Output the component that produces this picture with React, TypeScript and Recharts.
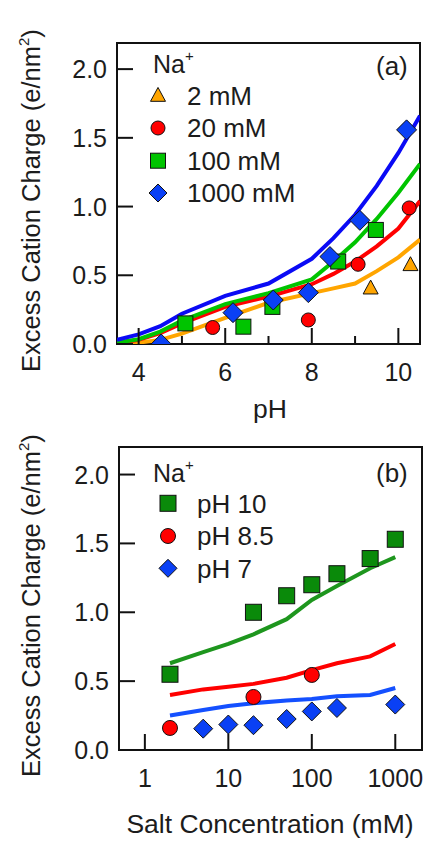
import { ComposedChart, Line, Scatter, XAxis, YAxis, ReferenceArea } from 'recharts'

const FONT = '"Liberation Sans", Arial, Helvetica, sans-serif'
const INK = '#1c1c1c'

const ORANGE = '#FFA500'
const RED = '#FF0000'
const GREEN_A = '#00C400'
const BLUE_A = '#0A0AF5'
const GREEN_B = '#1E961E'
const GREEN_B_PT = '#0A8A0A'
const BLUE_B = '#1450FF'
const BLUE_PT = '#0A40F5'

// ---- panel (a): charge vs pH ----
const ph2mM = [9.36, 10.28]
const q2mM = [0.405, 0.575]
const ph20mM = [5.71, 7.92, 9.07, 10.25]
const q20mM = [0.12, 0.175, 0.58, 0.99]
const ph100mM = [5.08, 6.42, 7.09, 8.61, 9.48]
const q100mM = [0.15, 0.126, 0.27, 0.6, 0.83]
const ph1000mM = [4.52, 6.18, 7.11, 7.92, 8.42, 9.11, 10.19]
const q1000mM = [0.0, 0.228, 0.32, 0.374, 0.636, 0.9, 1.558]

// model curves on a common pH grid
const phGrid = [3.5, 4, 4.5, 5, 6, 7, 8, 8.5, 9, 9.5, 10, 10.5]
const fit2mM = [0, 0.01, 0.03, 0.075, 0.19, 0.3, 0.37, 0.405, 0.44, 0.53, 0.63, 0.76]
const fit20mM = [0.005, 0.03, 0.08, 0.15, 0.27, 0.345, 0.435, 0.51, 0.6, 0.71, 0.84, 1.04]
const fit100mM = [0.01, 0.035, 0.09, 0.17, 0.29, 0.37, 0.47, 0.6, 0.74, 0.91, 1.1, 1.31]
const fit1000mM = [0.03, 0.07, 0.13, 0.22, 0.35, 0.44, 0.62, 0.77, 0.94, 1.15, 1.39, 1.66]

const phTicks = [4, 5, 6, 7, 8, 9, 10]
const phLabelled = [4, 6, 8, 10]

// ---- panel (b): charge vs salt concentration ----
const cPH10 = [2, 20, 50, 100, 200, 500, 1000]
const qPH10 = [0.55, 1.0, 1.12, 1.2, 1.28, 1.39, 1.53]
const cPH85 = [2, 20, 100]
const qPH85 = [0.16, 0.385, 0.545]
const cPH7 = [5, 10, 20, 50, 100, 200, 1000]
const qPH7 = [0.155, 0.185, 0.18, 0.225, 0.28, 0.305, 0.33]

const saltGrid = [2, 5, 10, 20, 50, 100, 200, 500, 1000]
const fitPH10 = [0.63, 0.71, 0.77, 0.84, 0.95, 1.09, 1.19, 1.32, 1.4]
const fitPH85 = [0.4, 0.44, 0.46, 0.48, 0.525, 0.58, 0.63, 0.68, 0.77]
const fitPH7 = [0.25, 0.29, 0.32, 0.34, 0.36, 0.37, 0.39, 0.4, 0.45]

const saltTicks = [1, 10, 100, 1000]
const chargeTicks = [0, 0.5, 1, 1.5, 2]

const pts = (xs: number[], ys: number[]) => xs.map((x, i) => ({ x, y: ys[i] }))

type Kind = 'triangle' | 'circle' | 'square' | 'diamond'

function Marker({ cx, cy, kind, size, fill }: { cx: number; cy: number; kind: Kind; size: number; fill: string }) {
  const h = size / 2
  const common = { fill, stroke: '#111', strokeWidth: 1 }
  if (kind === 'circle') return <circle cx={cx} cy={cy} r={h} {...common} />
  if (kind === 'square') return <rect x={cx - h} y={cy - h} width={size} height={size} {...common} />
  if (kind === 'diamond')
    return <polygon points={`${cx},${cy - h} ${cx + h},${cy} ${cx},${cy + h} ${cx - h},${cy}`} {...common} />
  return <polygon points={`${cx},${cy - h * 1.1} ${cx + h},${cy + h * 0.75} ${cx - h},${cy + h * 0.75}`} {...common} />
}

const shapeOf = (kind: Kind, size: number, fill: string) => (p: any) =>
  <Marker cx={p.cx} cy={p.cy} kind={kind} size={size} fill={fill} />

// inward ticks; labels only on the major ones
function XTick(props: any) {
  const { x, y, payload, labelled } = props
  const major = labelled.includes(payload.value)
  return (
    <g>
      <line x1={x} x2={x} y1={y} y2={y - (major ? 16 : 8)} stroke="#111" strokeWidth={2} />
      {major && (
        <text x={x} y={y + 37} textAnchor="middle" fontSize={25} fontFamily={FONT} fill={INK}>
          {payload.value}
        </text>
      )}
    </g>
  )
}

function YTick(props: any) {
  const { x, y, payload } = props
  return (
    <g>
      <line x1={x} x2={x + 16} y1={y} y2={y} stroke="#111" strokeWidth={2} />
      <text x={x - 10} y={y} dy="0.36em" textAnchor="end" fontSize={25} fontFamily={FONT} fill={INK}>
        {payload.value.toFixed(1)}
      </text>
    </g>
  )
}

type Entry = { kind: Kind; size: number; fill: string; label: string }

function Overlay({ tag, entries, symX, textX, rowY, naBase, tagBase, yTitleStart, xTitle, xTitleBase }: {
  tag: string; entries: Entry[]; symX: number; textX: number; rowY: number[]; naBase: number
  tagBase: number; yTitleStart: number; xTitle: string; xTitleBase: number
}) {
  return (
    <svg width={429} height={430} overflow="visible"
      style={{ position: 'absolute', left: 0, top: 0, pointerEvents: 'none', overflow: 'visible' }}>
      <g fontFamily={FONT} fill={INK}>
        <text x={153} y={naBase} fontSize={25}>
          Na<tspan fontSize={15} dy={-12}>+</tspan>
        </text>
        {entries.map((e, i) => (
          <g key={e.label}>
            <Marker cx={symX} cy={rowY[i]} kind={e.kind} size={e.size} fill={e.fill} />
            <text x={textX} y={rowY[i]} dy="0.36em" fontSize={26}>{e.label}</text>
          </g>
        ))}
        <text x={376} y={tagBase} fontSize={26}>{tag}</text>
        <text transform={`translate(40 ${yTitleStart}) rotate(-90)`} fontSize={25.5}>
          Excess Cation Charge (e/nm<tspan fontSize={15} dy={-11}>2</tspan><tspan dy={11}>)</tspan>
        </text>
        <text x={270} y={xTitleBase} textAnchor="middle" fontSize={26.5}>{xTitle}</text>
      </g>
    </svg>
  )
}

function PanelA() {
  return (
    <div style={{ position: 'relative', width: 429, height: 420 }}>
      <ComposedChart width={429} height={420} margin={{ top: 43, right: 9, bottom: 0, left: 0 }}>
        <XAxis type="number" dataKey="x" domain={[3.5, 10.5]} ticks={phTicks} allowDataOverflow
          axisLine={false} tickLine={false} tickSize={0} tickMargin={0} height={76}
          tick={(p: any) => <XTick {...p} labelled={phLabelled} />} />
        <YAxis type="number" dataKey="y" domain={[0, 2.19]} ticks={chargeTicks} allowDataOverflow
          axisLine={false} tickLine={false} tickSize={0} tickMargin={0} width={117}
          tick={(p: any) => <YTick {...p} />} />
        <Line data={pts(phGrid, fit2mM)} dataKey="y" stroke={ORANGE} strokeWidth={4} dot={false} isAnimationActive={false} />
        <Line data={pts(phGrid, fit20mM)} dataKey="y" stroke={RED} strokeWidth={4} dot={false} isAnimationActive={false} />
        <Line data={pts(phGrid, fit100mM)} dataKey="y" stroke={GREEN_A} strokeWidth={4} dot={false} isAnimationActive={false} />
        <Line data={pts(phGrid, fit1000mM)} dataKey="y" stroke={BLUE_A} strokeWidth={4} dot={false} isAnimationActive={false} />
        <Scatter data={pts(ph2mM, q2mM)} dataKey="y" shape={shapeOf('triangle', 15, ORANGE)} isAnimationActive={false} />
        <Scatter data={pts(ph20mM, q20mM)} dataKey="y" shape={shapeOf('circle', 14, RED)} isAnimationActive={false} />
        <Scatter data={pts(ph100mM, q100mM)} dataKey="y" shape={shapeOf('square', 15, GREEN_A)} isAnimationActive={false} />
        <Scatter data={pts(ph1000mM, q1000mM)} dataKey="y" shape={shapeOf('diamond', 20, BLUE_PT)} isAnimationActive={false} />
        <ReferenceArea x1={3.5} x2={10.5} y1={0} y2={2.19} fill="none" stroke="#111" strokeWidth={2} />
      </ComposedChart>
      <Overlay tag="(a)" symX={158} textX={187} rowY={[95.7, 128, 160.7, 193]} naBase={73}
        tagBase={75} yTitleStart={372} xTitle="pH" xTitleBase={418}
        entries={[
          { kind: 'triangle', size: 15, fill: ORANGE, label: '2 mM' },
          { kind: 'circle', size: 14, fill: RED, label: '20 mM' },
          { kind: 'square', size: 15, fill: GREEN_A, label: '100 mM' },
          { kind: 'diamond', size: 18, fill: BLUE_PT, label: '1000 mM' },
        ]} />
    </div>
  )
}

function PanelB() {
  return (
    <div style={{ position: 'relative', width: 429, height: 421 }}>
      <ComposedChart width={429} height={421} margin={{ top: 27, right: 7, bottom: 0, left: 0 }}>
        <XAxis type="number" dataKey="x" scale="log" domain={[0.49, 2090]} ticks={saltTicks} allowDataOverflow
          axisLine={false} tickLine={false} tickSize={0} tickMargin={0} height={91}
          tick={(p: any) => <XTick {...p} labelled={saltTicks} />} />
        <YAxis type="number" dataKey="y" domain={[0, 2.2]} ticks={chargeTicks} allowDataOverflow
          axisLine={false} tickLine={false} tickSize={0} tickMargin={0} width={119}
          tick={(p: any) => <YTick {...p} />} />
        <Line data={pts(saltGrid, fitPH10)} dataKey="y" stroke={GREEN_B} strokeWidth={4} dot={false} isAnimationActive={false} />
        <Line data={pts(saltGrid, fitPH85)} dataKey="y" stroke={RED} strokeWidth={4} dot={false} isAnimationActive={false} />
        <Line data={pts(saltGrid, fitPH7)} dataKey="y" stroke={BLUE_B} strokeWidth={4} dot={false} isAnimationActive={false} />
        <Scatter data={pts(cPH10, qPH10)} dataKey="y" shape={shapeOf('square', 16, GREEN_B_PT)} isAnimationActive={false} />
        <Scatter data={pts(cPH85, qPH85)} dataKey="y" shape={shapeOf('circle', 15, RED)} isAnimationActive={false} />
        <Scatter data={pts(cPH7, qPH7)} dataKey="y" shape={shapeOf('diamond', 19, BLUE_PT)} isAnimationActive={false} />
        <ReferenceArea x1={0.49} x2={2090} y1={0} y2={2.2} fill="none" stroke="#111" strokeWidth={2} />
      </ComposedChart>
      <Overlay tag="(b)" symX={168} textX={197} rowY={[83.3, 116, 148.3]} naBase={62}
        tagBase={62} yTitleStart={357} xTitle="Salt Concentration (mM)" xTitleBase={413}
        entries={[
          { kind: 'square', size: 16, fill: GREEN_B_PT, label: 'pH 10' },
          { kind: 'circle', size: 15, fill: RED, label: 'pH 8.5' },
          { kind: 'diamond', size: 18, fill: BLUE_PT, label: 'pH 7' },
        ]} />
    </div>
  )
}

export default function App() {
  return (
    <div style={{ position: 'absolute', left: 0, top: 0, width: 429, height: 841, background: '#fff' }}>
      <PanelA />
      <PanelB />
    </div>
  )
}
